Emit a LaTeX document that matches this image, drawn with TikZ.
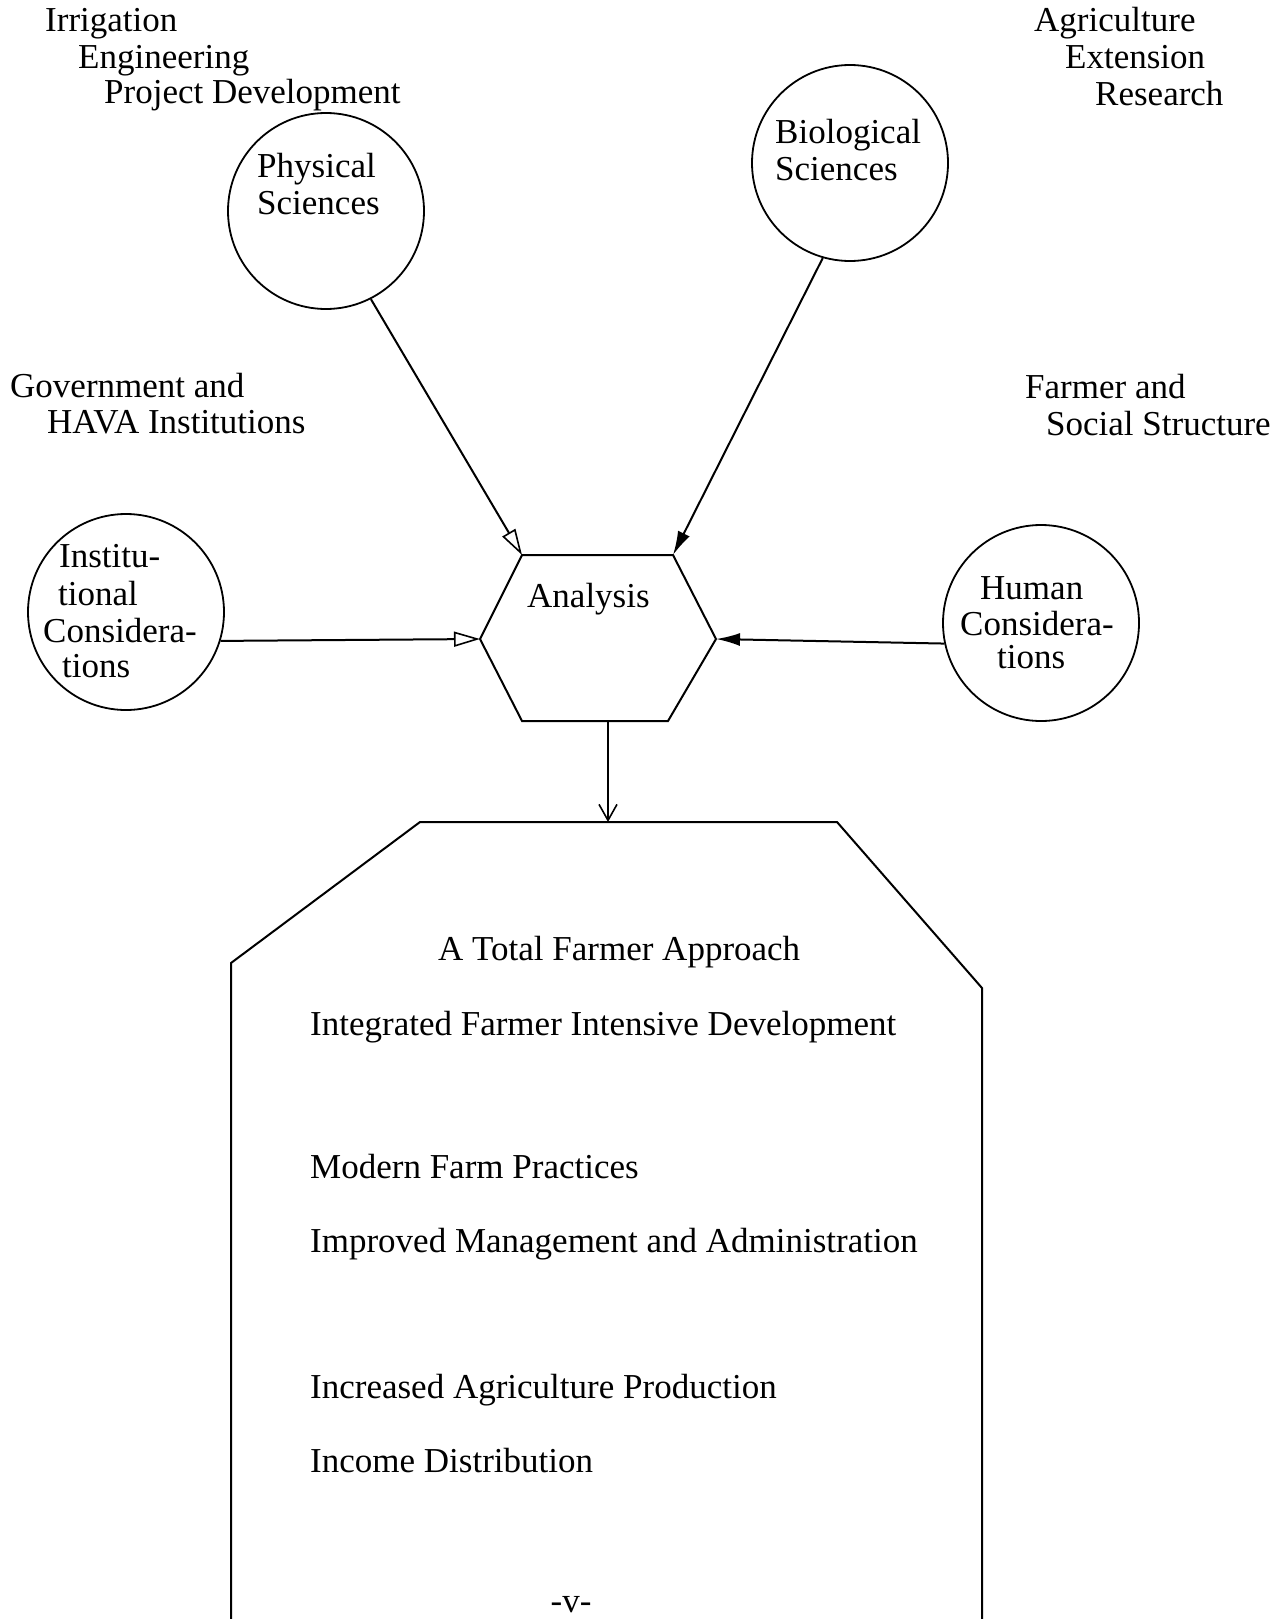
\documentclass[tikz,border=0pt]{standalone}
\usepackage{fontspec}
\setmainfont{Liberation Serif}
\usetikzlibrary{arrows.meta}
\begin{document}
\begin{tikzpicture}[x=1pt,y=-1pt,
  lbl/.style={anchor=base west, inner sep=0pt, font=\fontsize{35}{37}\selectfont},
  ctr/.style={anchor=base, inner sep=0pt, font=\fontsize{35}{37}\selectfont},
  circ/.style={circle, draw, line width=1.8pt, minimum size=196pt, inner sep=0pt},
  edge/.style={line width=2pt},
  openhead/.style={-{Triangle[open,length=26pt,width=15pt,line width=1.6pt]}},
  fillhead/.style={-{Latex[length=24pt,width=13pt]}},
  downhead/.style={-{Straight Barb[length=16pt,width=18pt,line width=1.6pt]}}
]
\useasboundingbox (0,0) rectangle (1283,1619);

% outer labels
\node[lbl] (irr)  at (45,32)   {Irrigation};
\node[lbl] (eng)  at (78,68)   {Engineering};
\node[lbl] (proj) at (104,103) {Project Development};
\node[lbl] (agr)  at (1034,32) {Agriculture};
\node[lbl] (ext)  at (1065,68) {Extension};
\node[lbl] (res)  at (1095,105) {Research};
\node[lbl] (gov)  at (10,397)  {Government and};
\node[lbl] (hava) at (47,433)  {HAVA Institutions};
\node[lbl] (farm) at (1025,398) {Farmer and};
\node[lbl] (soc)  at (1046,435) {Social Structure};

% circles
\node[circ] (phys) at (326,211) {};
\node[circ] (bio)  at (850,163) {};
\node[circ] (inst) at (126,612) {};
\node[circ] (hum)  at (1041,623) {};

\node[lbl] (physA) at (257,177) {Physical};
\node[lbl] (physB) at (257,214) {Sciences};
\node[lbl] (bioA)  at (775,143) {Biological};
\node[lbl] (bioB)  at (775,180) {Sciences};
\node[lbl] (instA) at (59,567)  {Institu-};
\node[lbl] (instB) at (58,605)  {tional};
\node[lbl] (instC) at (43,642)  {Considera-};
\node[lbl] (instD) at (62,677)  {tions};
\node[lbl] (humA)  at (980,599) {Human};
\node[lbl] (humB)  at (960,635) {Considera-};
\node[lbl] (humC)  at (997,668) {tions};

% hexagon
\coordinate (hTL) at (522,555);
\coordinate (hTR) at (673,555);
\coordinate (hR)  at (716,639);
\coordinate (hBR) at (668,721);
\coordinate (hBL) at (522,721);
\coordinate (hL)  at (480,639);
\coordinate (hB)  at (608,721);
\draw[edge] (hTL) -- (hTR) -- (hR) -- (hBR) -- (hBL) -- (hL) -- cycle;
\node[lbl] (ana) at (527,607) {Analysis};

% big box
\coordinate (bL)  at (231,1625);
\coordinate (bLd) at (231,963);
\coordinate (bTL) at (420,822);
\coordinate (bT)  at (608,822);
\coordinate (bTR) at (837,822);
\coordinate (bRd) at (982,988);
\coordinate (bR)  at (982,1625);
\draw[edge] (bL) -- (bLd) -- (bTL) -- (bTR) -- (bRd) -- (bR);

\node[lbl] (t1) at (438,960)  {A Total Farmer Approach};
\node[lbl] (t2) at (310,1035) {Integrated Farmer Intensive Development};
\node[lbl] (t3) at (310,1178) {Modern Farm Practices};
\node[lbl] (t4) at (310,1252) {Improved Management and Administration};
\node[lbl] (t5) at (310,1398) {Increased Agriculture Production};
\node[lbl] (t6) at (310,1472) {Income Distribution};
\node[ctr] (pg) at (571,1612) {-v-};

% connectors
\draw[edge, openhead] (phys.-63) -- (hTL);
\draw[edge, fillhead] (bio.-106) -- (hTR);
\draw[edge, openhead] (inst.-17) -- (hL);
\draw[edge, fillhead] (hum.-168) -- (hR);
\draw[edge, downhead] (hB) -- (bT);
\end{tikzpicture}
\end{document}
